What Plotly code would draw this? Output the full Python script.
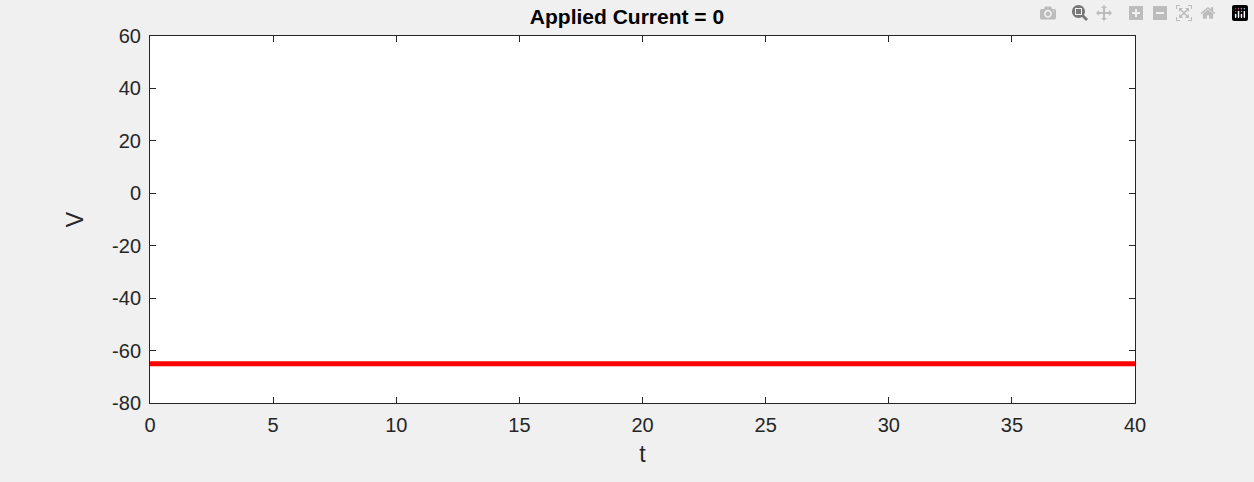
import plotly.graph_objects as go

t = [0, 40]
V = [-65, -65]
xticks = [0, 5, 10, 15, 20, 25, 30, 35, 40]
yticks = [-80, -60, -40, -20, 0, 20, 40, 60]

fig = go.Figure(go.Scatter(x=t, y=V, mode="lines", line=dict(color="#ff0000", width=5)))
ax = dict(showgrid=False, zeroline=False, ticks="inside", ticklen=6, tickcolor="#262626",
          showline=True, linecolor="#262626", linewidth=1, mirror="ticks",
          tickfont=dict(family="Liberation Sans, Arial", size=20, color="#262626"))
fig.update_layout(
    width=1254, height=482, paper_bgcolor="#f0f0f0", plot_bgcolor="white",
    margin=dict(l=150, r=119, t=36, b=79), showlegend=False,
    title=dict(text="<b>Applied Current = 0</b>", x=0.5, xanchor="center", y=0.965, yanchor="middle",
               font=dict(family="Liberation Sans, Arial", size=21, color="black")),
    xaxis=dict(**ax, range=[0, 40], tickvals=xticks, ticktext=[str(v) for v in xticks],
               title=dict(text="t", font=dict(family="Liberation Sans, Arial", size=23, color="#262626"), standoff=10)),
    yaxis=dict(**ax, range=[-80, 60], tickvals=yticks, ticktext=[str(v) for v in yticks],
               title=dict(text="V", font=dict(family="Liberation Sans, Arial", size=23, color="#262626"), standoff=22)),
)
fig.update_yaxes(ticklabelstandoff=4)
fig.update_xaxes(ticklabelstandoff=4)
html = fig.to_html(include_plotlyjs=True, full_html=True)
html = html.replace("<head>", "<head><style>html,body{margin:0;padding:0;background:#f0f0f0;}</style>", 1)
with open("out.html", "w", encoding="utf-8") as f:
    f.write(html)
